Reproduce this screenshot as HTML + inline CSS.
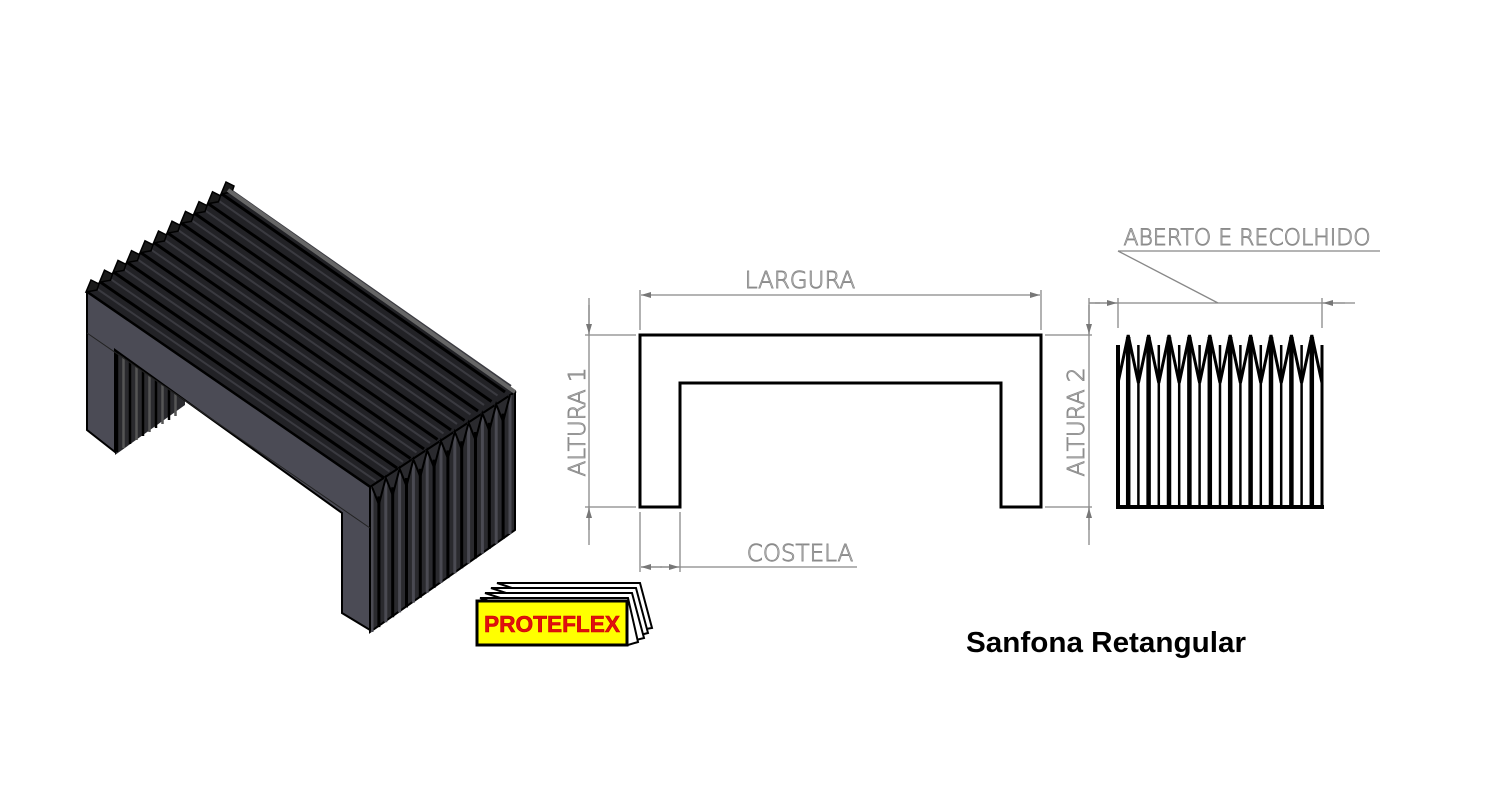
<!DOCTYPE html>
<html><head><meta charset="utf-8"><style>
html,body{margin:0;padding:0;background:#fff;width:1500px;height:800px;overflow:hidden}
svg{display:block}
.dim{stroke:#888;stroke-width:1.3;fill:none}
.t{font-family:"DejaVu Sans","Liberation Sans",sans-serif;font-weight:200;fill:#fff;stroke:#8a8a8a;stroke-width:0.9;font-size:23px}
</style></head><body>
<svg id="s" width="1500" height="800" viewBox="0 0 1500 800" xmlns="http://www.w3.org/2000/svg">
<defs>
<marker id="ar" viewBox="0 0 10 6" refX="10" refY="3" markerWidth="10" markerHeight="6" orient="auto-start-reverse" markerUnits="userSpaceOnUse"><path d="M0,0 L10,3 L0,6 z" fill="#777"/></marker>
</defs>
<g id="iso"></g>

<path d="M640,507 L640,335 L1041,335 L1041,507 L1001,507 L1001,383 L680,383 L680,507 Z" fill="none" stroke="#000" stroke-width="3"/>
<line class="dim" x1="640" y1="290" x2="640" y2="330"/>
<line class="dim" x1="1041" y1="290" x2="1041" y2="330"/>
<line class="dim" x1="641" y1="295" x2="1040" y2="295" marker-start="url(#ar)" marker-end="url(#ar)"/>
<text class="t" x="800" y="288" text-anchor="middle">LARGURA</text>
<line class="dim" x1="585" y1="335" x2="636" y2="335"/>
<line class="dim" x1="585" y1="507" x2="636" y2="507"/>
<line class="dim" x1="589" y1="298" x2="589" y2="545"/>
<line class="dim" x1="589" y1="305" x2="589" y2="334" marker-end="url(#ar)"/>
<line class="dim" x1="589" y1="530" x2="589" y2="508" marker-end="url(#ar)"/>
<text class="t" transform="translate(585,422) rotate(-90)" text-anchor="middle">ALTURA 1</text>
<line class="dim" x1="1045" y1="335" x2="1092" y2="335"/>
<line class="dim" x1="1045" y1="507" x2="1092" y2="507"/>
<line class="dim" x1="1089" y1="298" x2="1089" y2="545"/>
<line class="dim" x1="1089" y1="305" x2="1089" y2="334" marker-end="url(#ar)"/>
<line class="dim" x1="1089" y1="530" x2="1089" y2="508" marker-end="url(#ar)"/>
<line class="dim" x1="1089" y1="303" x2="1100" y2="303"/>
<text class="t" transform="translate(1084,422) rotate(-90)" text-anchor="middle">ALTURA 2</text>
<line class="dim" x1="640" y1="512" x2="640" y2="572"/>
<line class="dim" x1="680" y1="512" x2="680" y2="572"/>
<line class="dim" x1="641" y1="567" x2="857" y2="567"/>
<line class="dim" x1="641" y1="567" x2="662" y2="567" marker-start="url(#ar)"/>
<line class="dim" x1="660" y1="567" x2="679" y2="567" marker-end="url(#ar)"/>
<text class="t" x="800" y="561" text-anchor="middle">COSTELA</text>

<line class="dim" x1="1118" y1="298" x2="1118" y2="328"/>
<line class="dim" x1="1322" y1="298" x2="1322" y2="328"/>
<line class="dim" x1="1090" y1="303" x2="1355" y2="303"/>
<line class="dim" x1="1095" y1="303" x2="1117" y2="303" marker-end="url(#ar)"/>
<line class="dim" x1="1345" y1="303" x2="1323" y2="303" marker-end="url(#ar)"/>
<line class="dim" x1="1118" y1="251" x2="1380" y2="251"/>
<line class="dim" x1="1118" y1="251" x2="1218" y2="303"/>
<text class="t" x="1247" y="245" text-anchor="middle" style="font-size:22px">ABERTO E RECOLHIDO</text>
<g id="rb"></g>

<g>
<polygon points="497,583 640,583 652,628 640,630" fill="#fff" stroke="#000" stroke-width="2"/>
<polygon points="491,588 636,588 648,633 636,636" fill="#fff" stroke="#000" stroke-width="2"/>
<polygon points="485,593 632,593 644,638 632,641" fill="#fff" stroke="#000" stroke-width="2"/>
<polygon points="480,598 628,598 638,642 628,645" fill="#fff" stroke="#000" stroke-width="2"/>
<rect x="477" y="601" width="150" height="44" fill="#ffff00" stroke="#000" stroke-width="3"/>
<text x="552" y="632" text-anchor="middle" font-family="Liberation Sans, sans-serif" font-weight="bold" font-size="23" fill="#e01010" stroke="#c00" stroke-width="0.6" textLength="136" lengthAdjust="spacingAndGlyphs">PROTEFLEX</text>
</g>
<text x="1106" y="652" text-anchor="middle" font-family="Liberation Sans, sans-serif" font-weight="bold" font-size="29" fill="#000" textLength="280" lengthAdjust="spacingAndGlyphs">Sanfona Retangular</text>
</svg>
<script>
(function(){
var NS="http://www.w3.org/2000/svg";
function el(p,t,a){var e=document.createElementNS(NS,t);for(var k in a)e.setAttribute(k,a[k]);p.appendChild(e);return e;}
var g=document.getElementById('iso');
el(g,'polygon',{points:"87,292 228,190 515,392 370,487",fill:"#222226",stroke:"#000","stroke-width":2});
el(g,'polygon',{points:"370,487 515,392 515,530 370,632",fill:"#2a2a2e",stroke:"#000","stroke-width":2});
el(g,'polygon',{points:"115,350 185,400 185,405 115,455",fill:"#2a2a2e"});
for(var k=0;k<10;k++){var x=117+k*6.5;el(g,'line',{x1:x,y1:352+k*4.6,x2:x,y2:452-k*4,stroke:k%2?"#555":"#000","stroke-width":2.5});}
for(var i=0;i<11;i++){
 var sx=87+i*13.5, sy=292-i*9.8, ex=370+i*13.5, ey=487-i*9.5;
 el(g,'line',{x1:sx,y1:sy,x2:ex,y2:ey,stroke:"#000","stroke-width":3});
 el(g,'line',{x1:sx+6,y1:sy-6,x2:ex+6,y2:ey-6,stroke:"#3a3a40","stroke-width":2});
 el(g,'polygon',{points:(sx-1)+","+(sy)+" "+(sx+4)+","+(sy-12)+" "+(sx+12)+","+(sy-8)+" "+(sx+10)+","+(sy-2),fill:"#1a1a1a",stroke:"#000","stroke-width":1.5});
}
el(g,'line',{x1:228,y1:190,x2:515,y2:392,stroke:"#666","stroke-width":4});
for(var k=0;k<21;k++){
 var x=372+k*6.9, yt=487-k*4.6+((k%2)?14:0), yb=632-k*4.9;
 el(g,'line',{x1:x,y1:yt,x2:x,y2:yb,stroke:k%2?"#000":"#4a4a52","stroke-width":3});
}
var zz="";for(var k=0;k<21;k++){var x=372+k*6.9;zz+=x+","+(487-k*4.6+((k%2)?22:0))+" ";}
el(g,'polyline',{points:zz,fill:"none",stroke:"#000","stroke-width":2});
el(g,'polygon',{points:"87,292 370,487 370,630 342,613 342,513 115,350 115,452 87,430",fill:"#4b4b55",stroke:"#000","stroke-width":2});
el(g,'line',{x1:87,y1:333,x2:370,y2:528,stroke:"#222","stroke-width":1});
var r=document.getElementById('rb');
var xs=[];for(var k=0;k<=20;k++)xs.push(1118+k*10.2);
var z="";for(var k=0;k<=20;k++)z+=xs[k]+","+(k%2?335:383)+" ";
el(r,'polyline',{points:z,fill:"none",stroke:"#000","stroke-width":3});
for(var k=0;k<=20;k++){el(r,'line',{x1:xs[k],y1:k%2?337:345,x2:xs[k],y2:507,stroke:"#000","stroke-width":k%2?4.5:2.5});}
el(r,'line',{x1:1118,y1:345,x2:1118,y2:507,stroke:"#000","stroke-width":4});
el(r,'line',{x1:1322,y1:345,x2:1322,y2:507,stroke:"#000","stroke-width":3});
el(r,'line',{x1:1116,y1:507,x2:1324,y2:507,stroke:"#000","stroke-width":4});
})();
</script>
</body></html>
